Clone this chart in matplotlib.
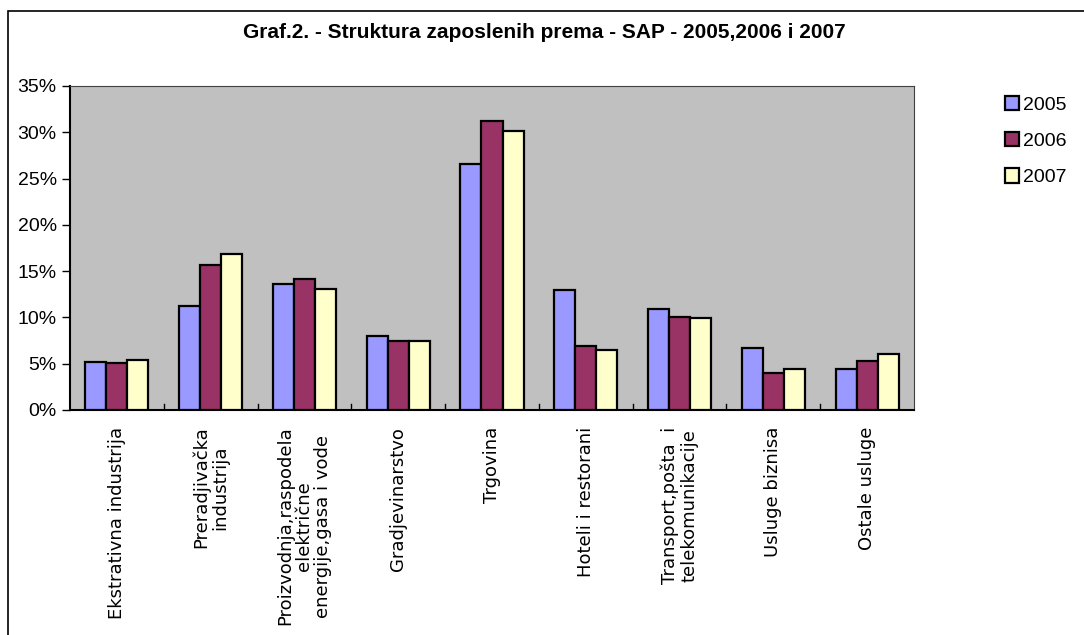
import numpy as np
import matplotlib.pyplot as plt
from matplotlib.patches import Rectangle
from matplotlib.ticker import PercentFormatter

plt.rcParams['font.family'] = ['Liberation Sans', 'DejaVu Sans']

categories = ['Ekstrativna industrija', 'Preradjivačka\nindustrija',
              'Proizvodnja,raspodela\nelektrične\nenergije,gasa i vode',
              'Gradjevinarstvo', 'Trgovina', 'Hoteli i restorani',
              'Transport,pošta  i\ntelekomunikacije', 'Usluge biznisa',
              'Ostale usluge']
years = ['2005', '2006', '2007']
v2005 = [5.2, 11.2, 13.6, 8.0, 26.6, 13.0, 10.9, 6.7, 4.4]
v2006 = [5.1, 15.7, 14.2, 7.4, 31.2, 6.9, 10.1, 4.0, 5.3]
v2007 = [5.4, 16.9, 13.1, 7.4, 30.1, 6.5, 9.9, 4.4, 6.1]
colors = ['#9999FF', '#993366', '#FFFFCC']

W, H = 1084, 635
fig = plt.figure(figsize=(W / 100, H / 100), dpi=100)
ax = fig.add_axes([70 / W, 1 - 410 / H, (914 - 70) / W, (410 - 86) / H])
ax.set_facecolor('#C0C0C0')

# outer chart border (runs off the right/bottom of the picture)
fig.patches.append(Rectangle((8 / W, -0.05), 1.1, 1 - 11 / H + 0.05,
                             transform=fig.transFigure, fill=False,
                             edgecolor='black', linewidth=1.2, zorder=0))

x = np.arange(len(categories))
bw = 0.224
for i, (vals, c) in enumerate(zip([v2005, v2006, v2007], colors)):
    ax.bar(x + (i - 1) * bw, vals, bw, color=c, edgecolor='black',
           linewidth=1.6, label=years[i], zorder=3)

ax.set_xlim(-0.5, len(categories) - 0.5)
ax.set_ylim(0, 35)
ax.set_yticks(np.arange(0, 36, 5))
ax.yaxis.set_major_formatter(PercentFormatter(decimals=0))
ax.tick_params(axis='y', labelsize=14, length=6, direction='out', width=1)

ax.set_xticks(x)
ax.set_xticklabels(categories, rotation=90, fontsize=13, ha='center',
                   va='top', multialignment='center', linespacing=1.05,
                   family=['DejaVu Sans'])
ax.tick_params(axis='x', length=0, pad=12)
for b in np.arange(0.5, len(categories) - 0.5, 1):
    ax.plot([b, b], [0, 0.7], color='black', linewidth=1, zorder=4)

for s in ['top', 'right']:
    ax.spines[s].set_color('#404040')
for s in ['left', 'bottom']:
    ax.spines[s].set_color('black')
    ax.spines[s].set_linewidth(1.5)

fig.text(544 / W, 1 - 33 / H,
         'Graf.2. - Struktura zaposlenih prema - SAP - 2005,2006 i 2007',
         ha='center', va='center', fontsize=15, fontweight='bold')

leg = fig.legend(loc='upper left', bbox_to_anchor=(995 / W, 1 - 86 / H),
                 frameon=False, fontsize=14, handlelength=0.75,
                 handleheight=0.75, handletextpad=0.2, labelspacing=0.95,
                 borderpad=0)
for h in leg.legend_handles:
    h.set_linewidth(1.6)

fig.savefig('out.png', dpi=100)
